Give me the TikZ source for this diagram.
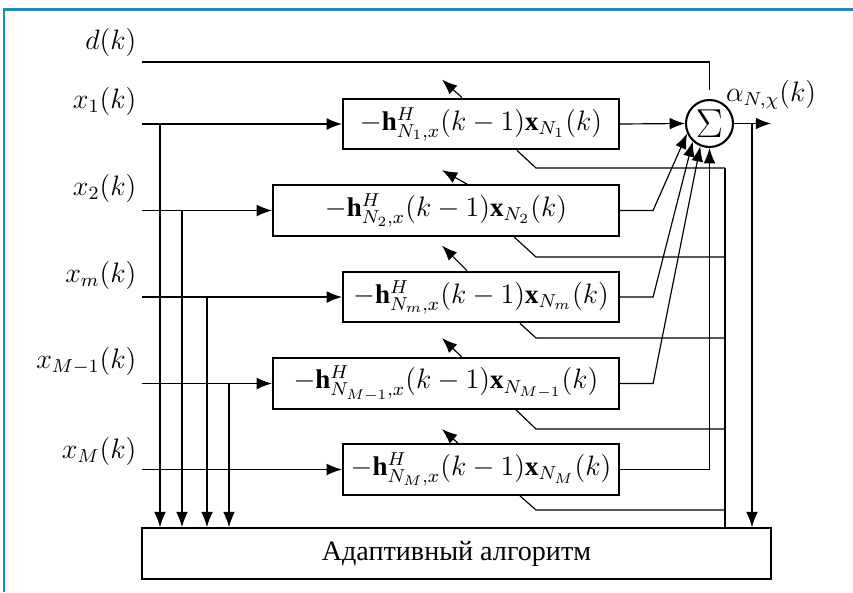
\documentclass[tikz,border=0pt]{standalone}
\usepackage{fontspec}
\setmainfont{Liberation Serif}
\usetikzlibrary{arrows.meta}
\definecolor{framecol}{RGB}{30,140,190}

\begin{document}
\begin{tikzpicture}[x=0.015cm,y=-0.015cm,line width=0.5pt,
    >={Latex[length=6.5pt,width=5pt]},
    every node/.style={font=\fontsize{11.5}{13}\selectfont},
    blok/.style={draw,line width=0.9pt,minimum height=0.76cm,inner sep=0pt},
    sumnode/.style={draw,circle,line width=0.9pt,minimum size=0.705cm,inner sep=0pt},
    lbl/.style={anchor=base east,inner sep=0pt}]
    \useasboundingbox (0,0) rectangle (853,592);
    \draw[framecol,line width=0.9pt] (4,592) -- (4,9.5) -- (853,9.5);

    % filter blocks
    \node[blok,minimum width=4.14cm] (f1) at (481,124) {$-\mathbf{h}^{H}_{N_1,x}(k-1)\mathbf{x}_{N_1}(k)$};
    \node[blok,minimum width=5.19cm] (f2) at (446,210.5) {$-\mathbf{h}^{H}_{N_2,x}(k-1)\mathbf{x}_{N_2}(k)$};
    \node[blok,minimum width=4.14cm] (f3) at (481,297) {$-\mathbf{h}^{H}_{N_m,x}(k-1)\mathbf{x}_{N_m}(k)$};
    \node[blok,minimum width=5.19cm] (f4) at (446,383.5) {$-\mathbf{h}^{H}_{N_{M-1},x}(k-1)\mathbf{x}_{N_{M-1}}(k)$};
    \node[blok,minimum width=4.14cm] (f5) at (481,469.5) {$-\mathbf{h}^{H}_{N_M,x}(k-1)\mathbf{x}_{N_M}(k)$};
    \node[blok,minimum width=9.435cm] (alg) at (456.5,553.5) {\fontsize{12}{14}\selectfont Адаптивный алгоритм};
    \node[sumnode] (sum) at (709.5,123.5) {\LARGE$\Sigma$};

    % input labels
    \node[lbl] (ld) at (137,49.5) {$d(k)$};
    \node[lbl] (l1) at (137,108) {$x_1(k)$};
    \node[lbl] (l2) at (137,195) {$x_2(k)$};
    \node[lbl] (l3) at (137,282) {$x_m(k)$};
    \node[lbl] (l4) at (137,368.5) {$x_{M-1}(k)$};
    \node[lbl] (l5) at (137,458.5) {$x_M(k)$};
    \node (la) at (771,95) {$\alpha_{N,\chi}(k)$};

    \coordinate (d0) at (142,62);
    \coordinate (in1) at (142,124);
    \coordinate (in2) at (142,210.5);
    \coordinate (in3) at (142,297);
    \coordinate (in4) at (142,383.5);
    \coordinate (in5) at (142,469.5);

    \draw (d0) -| ([yshift=4pt]sum.north);
    \draw[->] (in1) -- (f1.west);
    \draw[->] (in2) -- (f2.west);
    \draw[->] (in3) -- (f3.west);
    \draw[->] (in4) -- (f4.west);
    \draw[->] (in5) -- (f5.west);

    % taps to the algorithm
    \coordinate (t1) at (160,124);
    \coordinate (t2) at (182,210.5);
    \coordinate (t3) at (207,297);
    \coordinate (t4) at (229,383.5);
    \foreach \t in {t1,t2,t3,t4}
        \draw[->] (\t) -- (\t |- alg.north);

    % weight update arrows
    \foreach \b/\xs/\dx/\dy in {f1/462/20/18,f2/467/25/14,f3/467/25/25,f4/462/20/19,f5/458/16/14}
        \draw[->] (\b.north -| \xs,0) -- ++(-\dx,-\dy);

    % outputs to the sum
    \draw[->] (f1.east) -- (sum.west);
    \draw[->] (f2.east) -- ++(33,0) -- (sum.204);
    \draw[->] (f3.east) -- ++(33,0) -- (sum.227);
    \draw[->] (f4.east) -- ++(33,0) -- (sum.248);
    \draw[->] (f5.east) -| (sum.south);

    % lines back to the algorithm
    \coordinate (bus) at (725,168);
    \foreach \b/\xs/\yy in {f1/517/168,f2/514/257,f3/520/338,f4/516/429,f5/520/510}
        \draw (\b.south -| \xs,0) -- (536,\yy) -- (725,\yy);
    \draw (bus) -- (bus |- alg.north);

    % output
    \coordinate (aout) at (771,123.5);
    \coordinate (ot) at (752,123.5);
    \draw[->] (sum.east) -- (aout);
    \draw[->] (ot) -- (ot |- alg.north);
\end{tikzpicture}
\end{document}
